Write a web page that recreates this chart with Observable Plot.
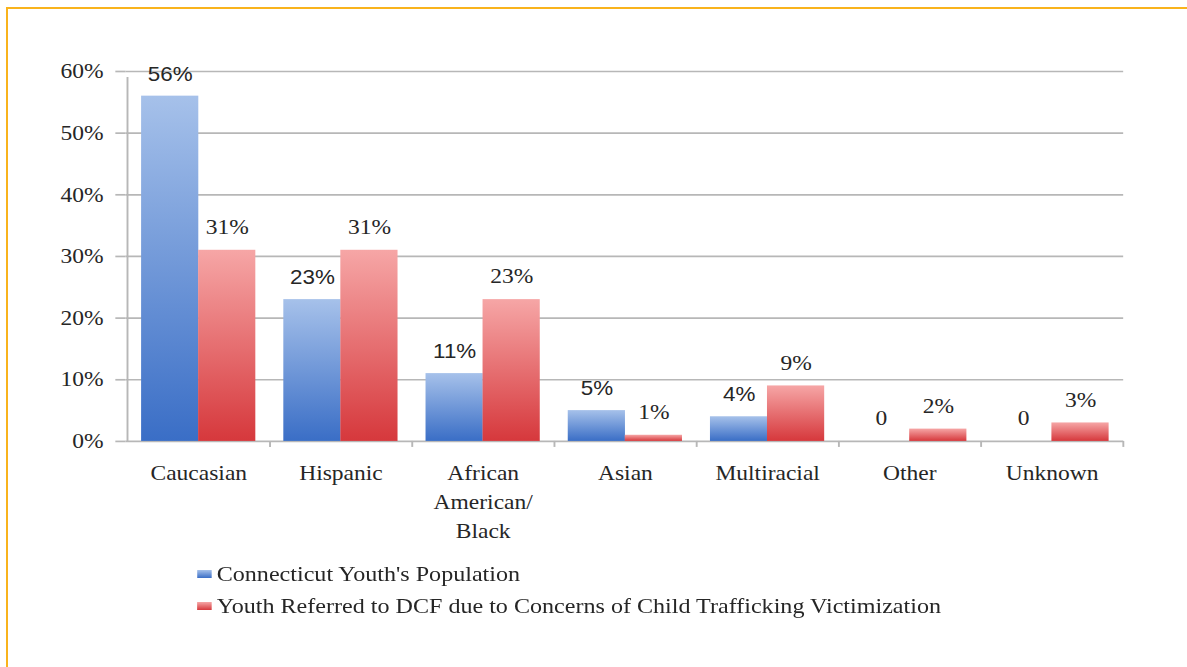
<!DOCTYPE html>
<html><head><meta charset="utf-8">
<script src="https://cdn.jsdelivr.net/npm/d3@7"></script>
<script src="https://cdn.jsdelivr.net/npm/@observablehq/plot@0.6"></script>
<style>
body{margin:0;background:#fff;width:1187px;height:667px;overflow:hidden;position:relative;font-family:"Liberation Serif",serif;}
#frame{position:absolute;left:6px;top:7px;width:3000px;height:3000px;border-top:2px solid #f9b31c;border-left:2px solid #f9b31c;pointer-events:none;z-index:5;}
#chart{position:absolute;left:0;top:0;}
#legend{position:absolute;left:0;top:0;width:1060px;transform:scaleX(1.12);transform-origin:0 0;}
.item{position:absolute;left:176px;display:flex;align-items:center;font-size:21.5px;line-height:26px;height:26px;color:#262626;white-space:nowrap;}
.sw{width:12.5px;height:8px;margin-right:5px;display:inline-block;}
</style></head><body>
<svg width="0" height="0" style="position:absolute"><defs id="defs"></defs></svg>
<div id="chart"></div>
<div id="legend"></div>
<div id="frame"></div>
<script>
const categories = ["Caucasian","Hispanic","African American/Black","Asian","Multiracial","Other","Unknown"];
const categoryLabels = ["Caucasian","Hispanic","African\nAmerican/\nBlack","Asian","Multiracial","Other","Unknown"];
const population = [56, 23, 11, 5, 4, 0, 0];
const referred = [31, 31, 23, 1, 9, 2, 3];
const yTicks = [0, 10, 20, 30, 40, 50, 60];
const seriesNames = ["Connecticut Youth's Population", "Youth Referred to DCF due to Concerns of Child Trafficking Victimization"];
const seriesIds = ["gBlue", "gRed"];
const seriesTop = ["#a6c1ea", "#f6a6a6"];
const seriesBottom = ["#3a6ec6", "#d6383c"];

// gradient definitions (one per series)
const defs = d3.select("#defs");
seriesIds.forEach((id, i) => {
  const g = defs.append("linearGradient").attr("id", id).attr("x1", 0).attr("y1", 0).attr("x2", 0).attr("y2", 1);
  g.append("stop").attr("offset", 0).attr("stop-color", seriesTop[i]);
  g.append("stop").attr("offset", 1).attr("stop-color", seriesBottom[i]);
});
const seriesFills = seriesIds.map(id => `url(#${id})`);

const S = 1.12, W = 1060, H = 548;
const mL = 112, mR = 57, mT = 71, mB = 107;
const pIn = 0.2, pOut = 0.1;
let step, bw;
try {
  const xs = Plot.scale({x: {type: "band", domain: categories, range: [mL, W - mR], paddingInner: pIn, paddingOuter: pOut}});
  step = xs.step; bw = xs.bandwidth;
} catch (e) {}
if (!step) { step = (W - mR - mL) / (categories.length - pIn + 2 * pOut); bw = step * (1 - pIn); }

const data = categories.map((c, i) => ({category: c, pop: population[i], ref: referred[i]}));
const grid = "#b7b7b7", ink = "#262626";

const plot = Plot.plot({
  width: W, height: H, marginLeft: mL, marginRight: mR, marginTop: mT, marginBottom: mB,
  x: {type: "band", domain: categories, paddingInner: pIn, paddingOuter: pOut, axis: null},
  y: {domain: [0, 60], axis: null},
  style: {background: "transparent", overflow: "visible", fontFamily: "Liberation Serif"},
  marks: [
    Plot.ruleY(yTicks, {y: d => d, stroke: grid, strokeWidth: 1.7}),
    Plot.barY(data, {x: "category", y: "pop", fill: seriesFills[0], insetRight: bw / 2}),
    Plot.barY(data, {x: "category", y: "ref", fill: seriesFills[1], insetLeft: bw / 2}),
    Plot.ruleX([categories[0]], {x: d => d, dx: -step / 2, y1: 0, y2: 60, insetBottom: -6, stroke: grid, strokeWidth: 1.7}),
    Plot.ruleX(categories, {x: d => d, dx: step / 2, y1: 0, y2: 0, insetBottom: -6, stroke: grid, strokeWidth: 1.7}),
    Plot.axisY({ticks: yTicks, anchor: "left", tickSize: 9, tickFormat: () => "", stroke: grid, strokeWidth: 1.7, label: null}),
    Plot.text(yTicks, {y: d => d, frameAnchor: "left", textAnchor: "end", dx: -20, text: d => d + "%", fontFamily: "Liberation Serif", fontSize: 21, fill: ink}),
    Plot.text(data.filter(d => d.pop > 0), {x: "category", y: "pop", text: d => d.pop + "%", dx: -bw / 4, dy: -22, fontFamily: "Liberation Sans", fontSize: 20, fill: ink}),
    Plot.text(data.filter(d => d.pop === 0), {x: "category", y: "pop", text: d => String(d.pop), dx: -bw / 4, dy: -23, fontSize: 21, fill: ink}),
    Plot.text(data, {x: "category", y: "ref", text: d => d.ref + "%", dx: bw / 4, dy: -23, fontSize: 21, fill: ink}),
    Plot.text(categories, {x: d => d, frameAnchor: "bottom", lineAnchor: "top", dy: 18, text: (d, i) => categoryLabels[i], fontSize: 21, lineHeight: 1.38, fill: ink})
  ]
});
plot.setAttribute("width", W * S);
plot.setAttribute("preserveAspectRatio", "none");
document.getElementById("chart").appendChild(plot);

const legend = document.getElementById("legend");
const tops = [561, 593];
seriesNames.forEach((name, i) => {
  const item = document.createElement("div");
  item.className = "item";
  item.style.top = tops[i] + "px";
  const sw = document.createElement("span");
  sw.className = "sw";
  sw.style.background = `linear-gradient(${seriesTop[i]}, ${seriesBottom[i]})`;
  const tx = document.createElement("span");
  tx.textContent = name;
  item.appendChild(sw); item.appendChild(tx);
  legend.appendChild(item);
});
</script>
</body></html>
